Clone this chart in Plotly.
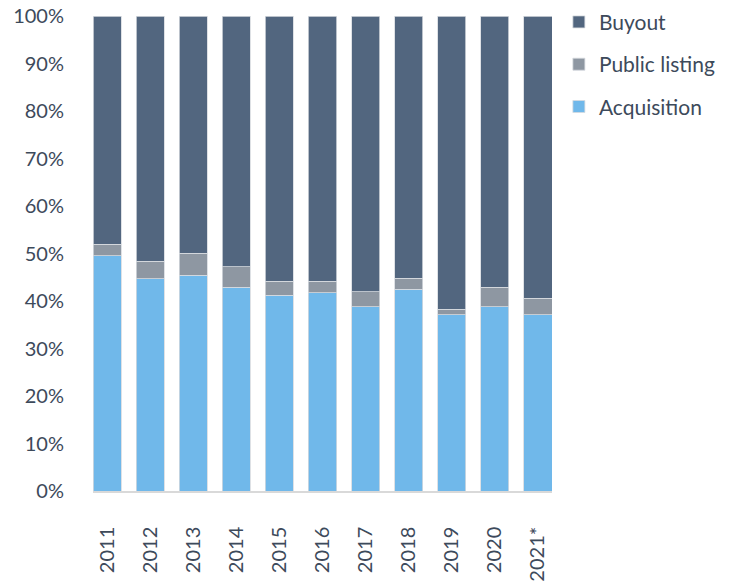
import plotly.graph_objects as go

years = ["2011", "2012", "2013", "2014", "2015", "2016", "2017", "2018", "2019", "2020", "2021*"]
acquisition = [49.5, 44.7, 45.4, 42.9, 41.2, 41.7, 38.8, 42.5, 37.1, 38.8, 37.1]
public_listing = [2.4, 3.7, 4.7, 4.3, 3.0, 2.5, 3.1, 2.3, 1.2, 4.1, 3.5]
buyout = [round(100 - a - p, 1) for a, p in zip(acquisition, public_listing)]

series = [
    ("Acquisition", acquisition, "#70b8ea", 3),
    ("Public listing", public_listing, "#8e97a2", 2),
    ("Buyout", buyout, "#52667f", 1),
]

fig = go.Figure()
for name, vals, color, rank in series:
    fig.add_trace(go.Bar(
        x=years, y=vals, name=name, legendgroup=name, legendrank=rank,
        marker=dict(color=color, line=dict(color="#d6d9de", width=0.8)),
    ))

font_color = "#3d4a5b"
fig.update_layout(
    barmode="stack",
    bargap=0.35,
    width=736, height=582,
    margin=dict(l=93, r=184, t=16, b=91, autoexpand=False),
    paper_bgcolor="white", plot_bgcolor="white",
    font=dict(family="Lato, 'Open Sans', sans-serif", size=20, color=font_color),
    legend=dict(
        x=1.015, y=1.03, xanchor="left", yanchor="top",
        traceorder="grouped", tracegroupgap=12,
        font=dict(size=21, color=font_color),
        itemwidth=30,
    ),
    showlegend=True,
)
fig.update_xaxes(
    type="category",
    range=[-0.325, 10.325],
    tickangle=-90,
    showline=True, linecolor="#d9d9d9", linewidth=1.5,
    ticks="", ticklabelstandoff=26,
    tickfont=dict(size=20, color=font_color),
    showgrid=False, automargin=False,
)
fig.update_yaxes(
    range=[0, 100],
    tickvals=[0, 10, 20, 30, 40, 50, 60, 70, 80, 90, 100],
    ticktext=["0%", "10%", "20%", "30%", "40%", "50%", "60%", "70%", "80%", "90%", "100%"],
    showgrid=False, zeroline=False, showline=False,
    ticks="", ticklabelstandoff=28,
    tickfont=dict(size=20, color=font_color),
    automargin=False,
)
fig.write_html(
    "out.html",
    config={"displayModeBar": False},
    post_script="document.body.style.margin='0';document.body.style.overflow='hidden';",
)
